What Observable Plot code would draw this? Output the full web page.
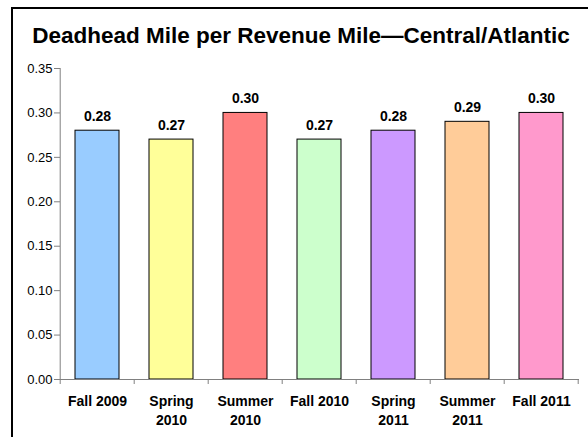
<!DOCTYPE html>
<html>
<head>
<meta charset="utf-8">
<script src="https://cdn.jsdelivr.net/npm/d3@7"></script>
<script src="https://cdn.jsdelivr.net/npm/@observablehq/plot@0.6"></script>
<style>
  html, body { margin: 0; padding: 0; background: #fff; overflow: hidden; }
  #wrap { position: relative; width: 588px; height: 437px; overflow: hidden; font-family: Arial, "Liberation Sans", sans-serif; }
  #frame { position: absolute; left: 11px; top: 7px; width: 600px; height: 460px; border-left: 2px solid #000; border-top: 2px solid #000; box-sizing: border-box; }
  #title { position: absolute; left: 0; top: 24px; width: 602px; text-align: center; font-weight: bold; font-size: 22.5px; color: #000; line-height: 24px; white-space: nowrap; }
  #chart { position: absolute; left: 0; top: 50px; }
</style>
</head>
<body>
<div id="wrap">
  <div id="frame"></div>
  <div id="title">Deadhead Mile per Revenue Mile—Central/Atlantic</div>
  <div id="chart"></div>
</div>
<script>
const categories = ["Fall 2009", "Spring 2010", "Summer 2010", "Fall 2010", "Spring 2011", "Summer 2011", "Fall 2011"];
const values = [0.28, 0.27, 0.30, 0.27, 0.28, 0.29, 0.30];
const colors = ["#99CCFF", "#FFFF99", "#FF7F7F", "#CCFFCC", "#CC99FF", "#FFCC99", "#FF99CC"];
const labelLines = [["Fall 2009"], ["Spring", "2010"], ["Summer", "2010"], ["Fall 2010"], ["Spring", "2011"], ["Summer", "2011"], ["Fall 2011"]];
const yTicks = [0, 0.05, 0.10, 0.15, 0.20, 0.25, 0.30, 0.35];

const data = categories.map((c, i) => ({category: c, value: values[i], color: colors[i], label: labelLines[i].join("\n")}));

const chart = Plot.plot({
  width: 588,
  height: 387,
  marginTop: 18,
  marginBottom: 58,
  marginLeft: 60,
  marginRight: 9,
  style: {fontFamily: "Arial, 'Liberation Sans', sans-serif", fontSize: "13px", color: "#000", background: "transparent", overflow: "visible"},
  x: {domain: categories, padding: 0.4, paddingOuter: 0.2, axis: null},
  y: {domain: [0, 0.35], ticks: yTicks, tickFormat: d => d.toFixed(2), label: null},
  marks: [
    Plot.barY(data, {x: "category", y: "value", fill: "color", stroke: "#000", strokeWidth: 1}),
    Plot.text(data, {x: "category", y: "value", text: d => d.value.toFixed(2), dy: -14, fontWeight: "bold", fontSize: 14, fill: "#000"}),
    Plot.axisY({ticks: yTicks, tickFormat: d => d.toFixed(2), tickSize: 6, stroke: "#808080", fill: "#000", fontSize: 13, label: null, tickPadding: 2}),
    Plot.ruleY([0], {stroke: "#808080"}),
    Plot.text(data, {x: "category", frameAnchor: "bottom", lineAnchor: "top", text: "label", dy: 14, fontWeight: "bold", fontSize: 14, fill: "#000", lineHeight: 1.3})
  ]
});
document.getElementById("chart").appendChild(chart);

// y axis line and category boundary ticks, positioned from the plot's scales
const svg = d3.select(chart);
const xs = chart.scale("x");
const ys = chart.scale("y");
const y0 = ys.apply(0), yTop = ys.apply(0.35);
const step = xs.step;
const left = xs.apply(categories[0]) - step * xs.paddingOuter;
svg.append("line").attr("x1", left).attr("x2", left).attr("y1", yTop).attr("y2", y0).attr("stroke", "#808080");
for (let i = 0; i <= categories.length; i++) {
  const xp = left + i * step;
  svg.append("line").attr("x1", xp).attr("x2", xp).attr("y1", y0).attr("y2", y0 + 5).attr("stroke", "#808080");
}
</script>
</body>
</html>
